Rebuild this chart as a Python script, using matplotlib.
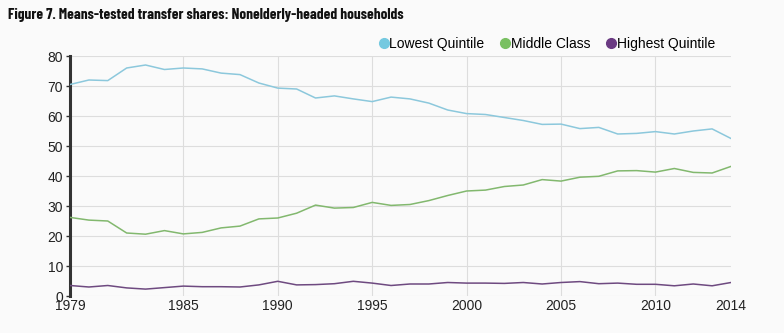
import matplotlib.pyplot as plt
from matplotlib.lines import Line2D

years = list(range(1979, 2015))

lowest = [70.5, 72.0, 71.8, 76.0, 77.0, 75.5, 76.0, 75.7, 74.3, 73.8,
          71.0, 69.3, 69.0, 66.0, 66.7, 65.7, 64.8, 66.3, 65.7, 64.3,
          62.0, 60.8, 60.5, 59.5, 58.5, 57.2, 57.3, 55.8, 56.2, 54.0,
          54.2, 54.8, 54.0, 55.0, 55.7, 52.5]

middle = [26.2, 25.3, 25.0, 21.0, 20.6, 21.8, 20.7, 21.2, 22.7, 23.3,
          25.7, 26.0, 27.6, 30.3, 29.3, 29.5, 31.2, 30.2, 30.5, 31.8,
          33.5, 35.0, 35.3, 36.5, 37.0, 38.8, 38.3, 39.6, 39.9, 41.7,
          41.8, 41.3, 42.5, 41.2, 41.0, 43.2]

highest = [3.5, 3.0, 3.5, 2.7, 2.3, 2.8, 3.3, 3.1, 3.1, 3.0,
           3.7, 4.9, 3.7, 3.8, 4.1, 4.9, 4.3, 3.5, 4.0, 4.0,
           4.5, 4.3, 4.3, 4.2, 4.5, 4.0, 4.5, 4.8, 4.1, 4.3,
           3.9, 3.9, 3.4, 4.0, 3.4, 4.5]

series_names = ["Lowest Quintile", "Middle Class", "Highest Quintile"]
line_colors = ["#8cc8dc", "#82b86e", "#6e4a80"]
dot_colors = ["#74c9e0", "#79c061", "#6a3a82"]
xticks = [1979, 1985, 1990, 1995, 2000, 2005, 2010, 2014]
yticks = [0, 10, 20, 30, 40, 50, 60, 70, 80]

bg = "#fafafa"
plt.rcParams['font.family'] = ['Liberation Sans', 'DejaVu Sans']

fig = plt.figure(figsize=(7.84, 3.33), dpi=100, facecolor=bg)
ax = fig.add_axes([70 / 784, 1 - 296 / 333, (731 - 70) / 784, 240 / 333])
ax.set_facecolor(bg)

for vals, c in zip([lowest, middle, highest], line_colors):
    ax.plot(years, vals, color=c, lw=1.1, zorder=3)

ax.set_xlim(1979, 2014)
ax.set_ylim(0, 80)
ax.set_xticks(xticks)
ax.set_yticks(yticks)
ax.tick_params(axis='both', labelsize=10, colors='#222222', length=0, pad=2)
ax.tick_params(axis='y', length=3, width=1, color='#333333')

# grid
for y in yticks[1:]:
    ax.axhline(y, color='#dddddd', lw=0.8, zorder=1)
for x in xticks[1:-1]:
    ax.axvline(x, color='#dddddd', lw=0.8, zorder=1)
ax.axhline(0, color='#e6e6e6', lw=0.8, zorder=1)

for s in ['top', 'right', 'bottom']:
    ax.spines[s].set_visible(False)
ax.spines['left'].set_color('#333333')
ax.spines['left'].set_linewidth(2.2)

# title
fig.text(8 / 784, 1 - 15 / 333, "Figure 7. Means-tested transfer shares: Nonelderly-headed households",
         fontsize=11, fontweight='bold', family=['Barlow Condensed', 'DejaVu Sans'],
         color='#111111', va='center', ha='left')

# legend
handles = [Line2D([], [], marker='o', ls='none', markersize=7, markerfacecolor=c,
                  markeredgecolor=c) for c in dot_colors]
fig.legend(handles, series_names, loc='center right', bbox_to_anchor=(722 / 784, 1 - 44 / 333),
           ncol=3, frameon=False, fontsize=10, handletextpad=-0.1, columnspacing=1.0,
           handlelength=1.0, borderpad=0)

fig.savefig("out.png", dpi=100, facecolor=bg)
